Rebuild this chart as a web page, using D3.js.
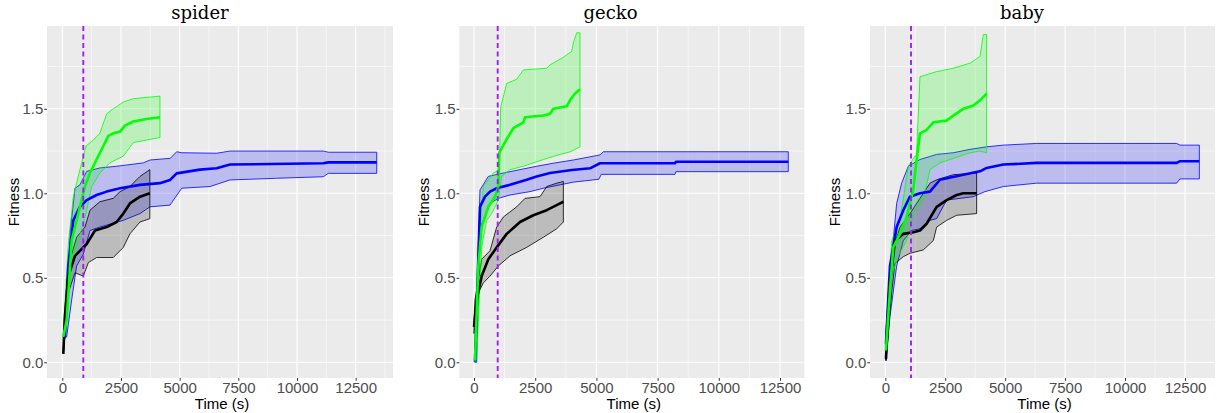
<!DOCTYPE html>
<html><head><meta charset="utf-8">
<script src="https://cdn.jsdelivr.net/npm/d3@7"></script>
<style>body{margin:0;background:#fff}</style>
</head><body><svg id="c" width="1217" height="413"></svg>
<script>
// ---------------- data ----------------
const panelNames = ["spider", "gecko", "baby"];
const xTickValues = [0, 2500, 5000, 7500, 10000, 12500];
const xTickLabels = ["0", "2500", "5000", "7500", "10000", "12500"];
const yTickValues = [0, 0.5, 1.0, 1.5];
const yTickLabels = ["0.0", "0.5", "1.0", "1.5"];
const switchTimes = [895, 968, 1072];
const seriesNames = ["blue", "black", "green"];
const seriesColors = ["#0000ff", "#000000", "#00ff00"];

// spider
const spider_green_mean = [[43,0.15],[185,0.25],[400,0.72],[680,0.88],[965,1.04],[1180,1.12],[1460,1.20],[1750,1.28],[1960,1.34],[2170,1.355],[2460,1.365],[2670,1.40],[3025,1.425],[3590,1.44],[4160,1.45]];
const spider_green_hi = [[43,0.17],[255,0.70],[470,0.98],[750,1.14],[1010,1.28],[1320,1.315],[1600,1.355],[1890,1.47],[2170,1.50],[2600,1.54],[3025,1.56],[4160,1.575]];
const spider_green_lo = [[43,0.13],[110,0.17],[400,0.57],[680,0.72],[1010,0.88],[1250,1.04],[1600,1.12],[2030,1.18],[2600,1.22],[3025,1.30],[3590,1.315],[4160,1.33]];
const spider_blue_mean = [[110,0.15],[255,0.57],[470,0.84],[750,0.92],[1040,0.96],[1460,0.99],[1890,1.01],[2460,1.03],[3310,1.05],[4160,1.06],[4589,1.079],[4874,1.118],[5860,1.14],[6578,1.148],[7145,1.17],[11120,1.178],[11334,1.183],[13396,1.183]];
const spider_blue_hi = [[110,0.16],[327,0.76],[540,1.03],[750,1.05],[1040,1.13],[1600,1.15],[2315,1.16],[3450,1.18],[3737,1.197],[4600,1.207],[4874,1.246],[5087,1.24],[6578,1.237],[7145,1.25],[11120,1.25],[11334,1.243],[13396,1.243]];
const spider_blue_lo = [[110,0.14],[185,0.15],[400,0.37],[610,0.57],[895,0.64],[1180,0.78],[1600,0.80],[2600,0.84],[3310,0.88],[3737,0.92],[4589,0.93],[5087,1.03],[6293,1.04],[7145,1.079],[9134,1.089],[11120,1.098],[11334,1.118],[13396,1.118]];
const spider_black_mean = [[43,0.05],[110,0.27],[255,0.51],[540,0.63],[820,0.67],[1040,0.70],[1390,0.78],[1890,0.80],[2315,0.83],[2600,0.88],[2880,0.94],[3310,0.98],[3730,1.00]];
const spider_black_hi = [[43,0.08],[110,0.31],[255,0.57],[610,0.74],[965,0.80],[1180,0.90],[1600,0.95],[2170,0.97],[2460,1.01],[2880,1.04],[3310,1.10],[3730,1.14]];
const spider_black_lo = [[43,0.05],[255,0.41],[540,0.53],[895,0.51],[1110,0.59],[1460,0.62],[2170,0.62],[2600,0.68],[2880,0.76],[3310,0.83],[3730,0.85]];

// gecko
const gecko_green_mean = [[40,0.01],[177,0.57],[313,0.80],[585,0.92],[858,0.98],[994,1.04],[1035,1.24],[1335,1.32],[1607,1.385],[2016,1.42],[2085,1.45],[2833,1.46],[3105,1.47],[3240,1.50],[3786,1.515],[3922,1.55],[4127,1.59],[4330,1.615]];
const gecko_green_hi = [[40,0.02],[177,0.68],[381,1.04],[790,1.12],[1035,1.14],[1090,1.51],[1335,1.65],[1743,1.675],[2016,1.73],[2970,1.74],[3105,1.76],[3650,1.805],[3990,1.84],[4058,1.89],[4195,1.95],[4330,1.95]];
const gecko_green_lo = [[40,0.0],[109,0.03],[313,0.68],[518,0.84],[722,0.88],[994,0.96],[1130,1.10],[1471,1.14],[2016,1.16],[2833,1.20],[3514,1.23],[3922,1.245],[4330,1.275]];
const gecko_blue_mean = [[40,0.005],[245,0.92],[449,0.98],[654,1.01],[926,1.03],[1471,1.05],[2152,1.08],[2560,1.10],[3105,1.12],[4000,1.138],[4740,1.148],[5147,1.178],[8211,1.178],[8250,1.187],[12838,1.187]];
const gecko_blue_hi = [[40,0.01],[245,1.02],[585,1.10],[1200,1.12],[1880,1.14],[2560,1.16],[3240,1.178],[4057,1.197],[5147,1.227],[5282,1.246],[12838,1.246]];
const gecko_blue_lo = [[40,0.0],[109,0.0],[245,0.80],[449,0.86],[654,0.94],[994,0.97],[1471,0.99],[2289,1.01],[2833,1.03],[3514,1.05],[4057,1.066],[5100,1.083],[5200,1.112],[8211,1.112],[8250,1.128],[12838,1.128]];
const gecko_black_mean = [[0,0.21],[109,0.37],[313,0.51],[585,0.61],[926,0.68],[1335,0.76],[1880,0.83],[2424,0.87],[2970,0.90],[3378,0.93],[3650,0.95]];
const gecko_black_hi = [[0,0.25],[40,0.37],[313,0.61],[654,0.66],[926,0.80],[1200,0.86],[1743,0.92],[2085,0.97],[2697,0.98],[2970,1.04],[3378,1.06],[3650,1.07]];
const gecko_black_lo = [[0,0.17],[177,0.41],[381,0.47],[654,0.51],[994,0.57],[1471,0.63],[2152,0.68],[2833,0.74],[3378,0.79],[3650,0.83]];

// baby
const baby_green_mean = [[28,0.07],[195,0.43],[334,0.68],[612,0.76],[890,0.86],[1168,1.02],[1307,1.20],[1446,1.355],[1724,1.375],[2002,1.42],[2558,1.43],[2837,1.46],[3254,1.50],[3671,1.52],[3949,1.55],[4227,1.59]];
const baby_green_hi = [[28,0.09],[125,0.37],[264,0.72],[612,0.84],[960,1.16],[1238,1.22],[1300,1.22],[1446,1.69],[2141,1.72],[2837,1.74],[3532,1.77],[3949,1.81],[4088,1.94],[4227,1.94]];
const baby_green_lo = [[28,0.05],[264,0.51],[542,0.63],[890,0.72],[1168,0.88],[1585,0.96],[1863,1.14],[2280,1.18],[3115,1.22],[3532,1.24],[3949,1.25],[4227,1.24]];
const baby_blue_mean = [[28,0.11],[195,0.57],[473,0.80],[751,0.90],[1029,0.98],[1446,1.00],[1863,1.01],[2280,1.08],[3254,1.11],[3949,1.13],[4227,1.15],[4922,1.17],[6313,1.18],[12153,1.18],[12292,1.19],[13098,1.19]];
const baby_blue_hi = [[28,0.13],[125,0.41],[473,0.94],[681,1.06],[960,1.16],[1446,1.20],[2141,1.23],[2837,1.24],[3532,1.26],[4227,1.275],[4922,1.285],[6313,1.295],[12153,1.295],[12292,1.285],[13098,1.285]];
const baby_blue_lo = [[28,0.01],[195,0.27],[473,0.57],[751,0.72],[1098,0.78],[1446,0.79],[1863,0.84],[2141,0.85],[2558,0.96],[3115,0.97],[3671,0.98],[4158,1.01],[4922,1.04],[6313,1.06],[12153,1.06],[12292,1.085],[13098,1.085]];
const baby_black_mean = [[28,0.02],[195,0.47],[403,0.72],[751,0.76],[1168,0.77],[1446,0.78],[1724,0.82],[2141,0.92],[2558,0.96],[2975,0.99],[3254,1.00],[3810,1.00]];
const baby_black_hi = [[28,0.19],[264,0.645],[612,0.80],[1029,0.88],[1446,0.97],[1863,1.06],[2141,1.08],[2837,1.11],[3810,1.12]];
const baby_black_lo = [[28,0.01],[264,0.41],[403,0.585],[751,0.625],[1029,0.645],[1585,0.665],[2002,0.72],[2141,0.80],[2558,0.84],[2975,0.87],[3810,0.88]];

const panelSeries = [
  [[spider_blue_mean, spider_blue_lo, spider_blue_hi],[spider_black_mean, spider_black_lo, spider_black_hi],[spider_green_mean, spider_green_lo, spider_green_hi]],
  [[gecko_blue_mean, gecko_blue_lo, gecko_blue_hi],[gecko_black_mean, gecko_black_lo, gecko_black_hi],[gecko_green_mean, gecko_green_lo, gecko_green_hi]],
  [[baby_blue_mean, baby_blue_lo, baby_blue_hi],[baby_black_mean, baby_black_lo, baby_black_hi],[baby_green_mean, baby_green_lo, baby_green_hi]]
];

// ---------------- layout ----------------
const layout = [
  {left:47, right:393, x0:62.3, x1:355.7, titleX:200, ylabX:19},
  {left:459.3, right:804.3, x0:474, x1:780, titleX:610.5, ylabX:429},
  {left:870, right:1215, x0:885.3, x1:1185, titleX:1022, ylabX:840}
];
const panelTop = 26, panelBottom = 378;
const svg = d3.select("#c");

layout.forEach((L, pi) => {
  const x = d3.scaleLinear().domain([0, 12500]).range([L.x0, L.x1]);
  const y = d3.scaleLinear().domain([0, 1.5]).range([362.3, 108.8]);
  const g = svg.append("g");
  const clipId = "clip" + pi;
  g.append("clipPath").attr("id", clipId).append("rect")
    .attr("x", L.left).attr("y", panelTop).attr("width", L.right - L.left).attr("height", panelBottom - panelTop);
  g.append("rect").attr("x", L.left).attr("y", panelTop).attr("width", L.right - L.left).attr("height", panelBottom - panelTop).attr("fill", "#ebebeb");

  const xMinor = d3.range(-1250, 15000, 2500).filter(v => x(v) > L.left + 0.5 && x(v) < L.right - 0.5);
  const yMinor = [-0.25, 0.25, 0.75, 1.25, 1.75].filter(v => y(v) > panelTop && y(v) < panelBottom);
  const grid = g.append("g");
  xMinor.forEach(v => grid.append("line").attr("x1", x(v)).attr("x2", x(v)).attr("y1", panelTop).attr("y2", panelBottom).attr("stroke", "#fff").attr("stroke-width", 0.55));
  yMinor.forEach(v => grid.append("line").attr("x1", L.left).attr("x2", L.right).attr("y1", y(v)).attr("y2", y(v)).attr("stroke", "#fff").attr("stroke-width", 0.55));
  xTickValues.forEach(v => grid.append("line").attr("x1", x(v)).attr("x2", x(v)).attr("y1", panelTop).attr("y2", panelBottom).attr("stroke", "#fff").attr("stroke-width", 1.1));
  yTickValues.forEach(v => grid.append("line").attr("x1", L.left).attr("x2", L.right).attr("y1", y(v)).attr("y2", y(v)).attr("stroke", "#fff").attr("stroke-width", 1.1));

  const data = g.append("g").attr("clip-path", `url(#${clipId})`);
  const line = d3.line().x(d => x(d[0])).y(d => y(d[1]));
  panelSeries[pi].forEach((s, si) => {
    const [mean, lo, hi] = s;
    const poly = hi.concat(lo.slice().reverse());
    data.append("path").attr("d", line(poly) + "Z")
      .attr("fill", seriesColors[si]).attr("fill-opacity", 0.2)
      .attr("stroke", seriesColors[si]).attr("stroke-width", 0.8).attr("stroke-linejoin", "round");
  });
  panelSeries[pi].forEach((s, si) => {
    data.append("path").attr("d", line(s[0])).attr("fill", "none")
      .attr("stroke", seriesColors[si]).attr("stroke-width", 2.6).attr("stroke-linejoin", "round");
  });
  data.append("line").attr("x1", x(switchTimes[pi])).attr("x2", x(switchTimes[pi]))
    .attr("y1", panelTop).attr("y2", panelBottom).attr("stroke", "#a020f0").attr("stroke-width", 1.9)
    .attr("stroke-dasharray", "5,3.5");

  // axes
  const xAxis = d3.axisBottom(x).tickValues(xTickValues).tickSize(2.75).tickPadding(2).tickFormat((d, i) => xTickLabels[i]);
  const ax = g.append("g").attr("transform", `translate(0,${panelBottom})`).call(xAxis);
  ax.select(".domain").remove();
  ax.selectAll(".tick line").attr("stroke", "#333333").attr("stroke-width", 1);
  ax.selectAll(".tick text").attr("fill", "#4d4d4d").attr("font-family", "Liberation Sans, Arial, sans-serif").attr("font-size", 15).attr("dy", "0.71em");

  const yAxis = d3.axisLeft(y).tickValues(yTickValues).tickSize(2.75).tickPadding(1).tickFormat((d, i) => yTickLabels[i]);
  const ay = g.append("g").attr("transform", `translate(${L.left},0)`).call(yAxis);
  ay.select(".domain").remove();
  ay.selectAll(".tick line").attr("stroke", "#333333").attr("stroke-width", 1);
  ay.selectAll(".tick text").attr("fill", "#4d4d4d").attr("font-family", "Liberation Sans, Arial, sans-serif").attr("font-size", 15);

  g.append("text").attr("x", (L.left + L.right) / 2 + 2).attr("y", 409).attr("text-anchor", "middle")
    .attr("font-family", "Liberation Sans, Arial, sans-serif").attr("font-size", 15).attr("fill", "#000").text("Time (s)");
  g.append("text").attr("transform", `translate(${L.ylabX},${(panelTop + panelBottom) / 2}) rotate(-90)`).attr("text-anchor", "middle")
    .attr("font-family", "Liberation Sans, Arial, sans-serif").attr("font-size", 15).attr("fill", "#000").text("Fitness");
  g.append("text").attr("x", L.titleX).attr("y", 19).attr("text-anchor", "middle")
    .attr("font-family", "DejaVu Serif, serif").attr("font-size", 18).attr("fill", "#000").text(panelNames[pi]);
});
</script></body></html>
